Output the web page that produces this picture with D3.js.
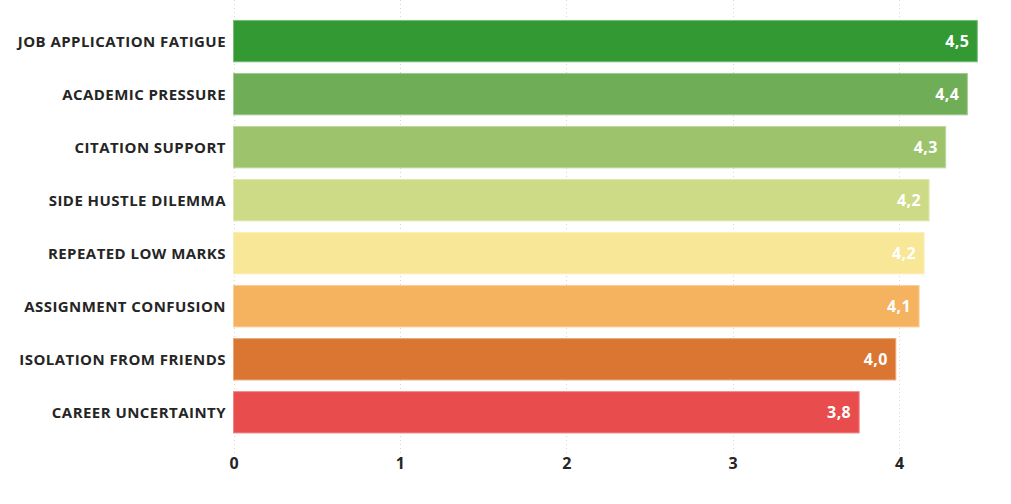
<!DOCTYPE html>
<html>
<head>
<meta charset="utf-8">
<script src="https://cdn.jsdelivr.net/npm/d3@7"></script>
<style>
  body { margin: 0; background: #fff; }
  text { font-family: "Open Sans", "DejaVu Sans", sans-serif; }
</style>
</head>
<body>
<svg id="chart"></svg>
<script>
// data
var categories = ['JOB APPLICATION FATIGUE', 'ACADEMIC PRESSURE', 'CITATION SUPPORT', 'SIDE HUSTLE DILEMMA',
  'REPEATED LOW MARKS', 'ASSIGNMENT CONFUSION', 'ISOLATION FROM FRIENDS', 'CAREER UNCERTAINTY']
var values = [4.47, 4.41, 4.28, 4.18, 4.15, 4.12, 3.98, 3.76]
var colors = ['#339933', '#70ad57', '#9dc36c', '#cedb86', '#f7e796', '#f5b25f', '#db7632', '#e84c4c']
var xTicks = [0, 1, 2, 3, 4]

var width = 1011, height = 504
var margin = {left: 233.5}

var svg = d3.select('#chart')
  .attr('width', width)
  .attr('height', height)

var x = d3.scaleLinear()
  .domain([0, 1])
  .range([margin.left, margin.left + 166.4])

var y = d3.scaleBand()
  .domain(categories)
  .range([14.6, 438.8])
  .paddingInner(0.22)
  .paddingOuter(0.11)

// dotted grid
svg.append('g')
  .selectAll('line')
  .data(xTicks)
  .enter()
  .append('line')
    .attr('x1', d => Math.round(x(d)) + 0.5)
    .attr('x2', d => Math.round(x(d)) + 0.5)
    .attr('y1', 0)
    .attr('y2', 456)
    .attr('stroke', '#d6d6d6')
    .attr('stroke-width', 1)
    .attr('stroke-dasharray', '1,3')

// bars
svg.append('g')
  .selectAll('rect')
  .data(values)
  .enter()
  .append('rect')
    .attr('x', x(0))
    .attr('y', (d, i) => y(categories[i]))
    .attr('width', d => x(d) - x(0))
    .attr('height', y.bandwidth())
    .attr('fill', (d, i) => colors[i])
    .attr('stroke', (d, i) => d3.interpolateRgb(colors[i], '#fff')(0.35))
    .attr('stroke-width', 1)

// value labels
svg.append('g')
  .selectAll('text')
  .data(values)
  .enter()
  .append('text')
    .attr('x', d => x(d) - 8)
    .attr('y', (d, i) => y(categories[i]) + y.bandwidth() / 2)
    .attr('dy', '0.36em')
    .attr('text-anchor', 'end')
    .attr('fill', '#fff')
    .attr('font-size', 16)
    .attr('font-weight', 700)
    .attr('letter-spacing', 0.4)
    .text(d => d3.format('.1f')(d).replace('.', ','))

// category labels
svg.append('g')
  .selectAll('text')
  .data(categories)
  .enter()
  .append('text')
    .attr('x', 226)
    .attr('y', d => y(d) + y.bandwidth() / 2)
    .attr('dy', '0.36em')
    .attr('text-anchor', 'end')
    .attr('fill', '#252525')
    .attr('font-size', 15)
    .attr('font-weight', 700)
    .attr('letter-spacing', 0.45)
    .text(d => d)

// x axis
var axis = svg.append('g')
  .attr('transform', 'translate(0,458)')
  .call(d3.axisBottom(x).tickValues(xTicks).tickSize(0).tickPadding(0).tickFormat(d3.format('d')))
axis.select('.domain').remove()
axis.selectAll('text')
  .attr('font-family', '"Open Sans", sans-serif')
  .attr('font-size', 16)
  .attr('font-weight', 700)
  .attr('fill', '#252525')
</script>
</body>
</html>
